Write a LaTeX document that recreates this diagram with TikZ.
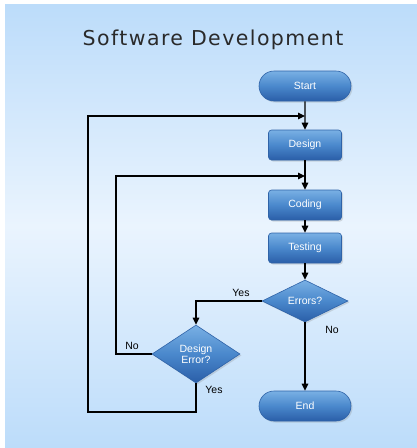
\documentclass[tikz,border=0pt]{standalone}
\usepackage{fontspec}
\setmainfont{Liberation Sans}
\newfontfamily\titlefont[LetterSpace=7]{DejaVu Sans}
\usetikzlibrary{shapes.geometric,shapes.misc,arrows.meta,shadows}
\definecolor{bgedge}{HTML}{BCDCFA}
\definecolor{bgmid}{HTML}{EAF4FE}
\definecolor{boxtop}{HTML}{79B0E4}
\definecolor{boxmid}{HTML}{4A88CC}
\definecolor{boxbot}{HTML}{2A5EA8}
\definecolor{boxline}{HTML}{2F63A8}
\definecolor{titlegray}{HTML}{2A2A2A}
\tikzset{
  blueshape/.style={draw=boxline, line width=0.6pt,
    top color=boxtop, bottom color=boxbot, middle color=boxmid,
    drop shadow={shadow xshift=1.5pt, shadow yshift=-1.5pt, opacity=0.25},
    text=white, font=\fontsize{10.5}{11.5}\selectfont, inner sep=0pt, align=center},
  terminal/.style={blueshape, rounded rectangle, minimum width=92pt, minimum height=30pt},
  process/.style={blueshape, rounded corners=3pt, minimum width=73pt, minimum height=30pt},
  decision/.style={blueshape, diamond, aspect=2},
  flow/.style={line width=1.1pt, -{Triangle[length=7pt,width=6.5pt]}},
  lbl/.style={font=\fontsize{10.5}{12}\selectfont, text=black, inner sep=0pt}
}
\begin{document}
\begin{tikzpicture}[x=1pt,y=-1pt]
  \useasboundingbox (0,0) rectangle (417,448);
  \fill[white] (0,0) rectangle (417,448);
  % background panel: blue at the edges, pale in the middle
  \shade[top color=bgedge, bottom color=bgedge, middle color=bgmid]
    (5,4) rectangle (417,448);

  \node[font=\titlefont\fontsize{20.5}{23}\selectfont, text=titlegray] (title) at (213,40)
    {Software Development};

  \node[terminal] (start) at (305,86) {Start};
  \node[process] (design) at (305,145) {Design};
  \node[process] (coding) at (305,205) {Coding};
  \node[process] (testing) at (305,248) {Testing};
  \node[decision, minimum width=86pt, minimum height=42pt] (errors) at (305,301) {Errors?};
  \node[decision, minimum width=88pt, minimum height=58pt] (derr) at (196,354) {Design\\Error?};
  \node[terminal] (end) at (305,406) {End};

  \coordinate (j1) at (305,116);
  \coordinate (j2) at (305,176);

  % main flow
  \draw[flow] (start) -- (design);
  \draw[flow] (design) -- (coding);
  \draw[flow] (coding) -- (testing);
  \draw[flow] (testing) -- (errors);
  \draw[flow] (errors) -- (end);
  \draw[flow] (errors.west) -| (derr.north);

  % feedback loops
  \draw[flow] (derr.south) |- (88,412) |- (j1);
  \draw[flow] (derr.west) -| (116,290) |- (j2);

  \node[lbl] (lyes1) at (241,293) {Yes};
  \node[lbl] (lno1) at (332,330) {No};
  \node[lbl] (lno2) at (132,346) {No};
  \node[lbl] (lyes2) at (214,390) {Yes};
\end{tikzpicture}
\end{document}
